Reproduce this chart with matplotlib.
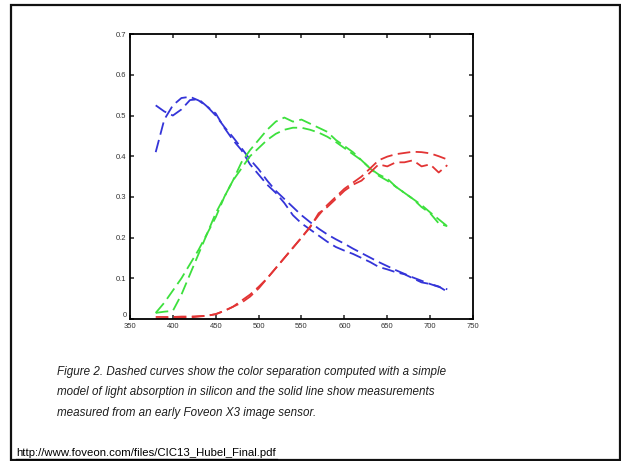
import numpy as np
import matplotlib
matplotlib.use('Agg')
import matplotlib.pyplot as plt
from matplotlib.patches import Rectangle
from matplotlib.lines import Line2D

plt.rcParams['font.family'] = ['Liberation Sans', 'DejaVu Sans']

# wavelength (nm) and response values
wl = [380, 390, 400, 410, 420, 430, 440, 450, 460, 470, 480, 490, 500, 510, 520,
      530, 540, 550, 560, 570, 580, 590, 600, 610, 620, 630, 640, 650, 660, 670,
      680, 690, 700, 710, 720]

blue_model = [0.41, 0.49, 0.525, 0.543, 0.546, 0.537, 0.522, 0.50, 0.472, 0.447, 0.42,
              0.392, 0.368, 0.34, 0.315, 0.295, 0.275, 0.255, 0.238, 0.222, 0.208, 0.196,
              0.185, 0.173, 0.162, 0.151, 0.14, 0.13, 0.12, 0.111, 0.102, 0.094,
              0.086, 0.079, 0.073]
blue_meas = [0.525, 0.51, 0.50, 0.515, 0.538, 0.54, 0.522, 0.505, 0.47, 0.44, 0.415,
             0.38, 0.355, 0.33, 0.31, 0.285, 0.255, 0.235, 0.22, 0.205, 0.19, 0.177,
             0.168, 0.16, 0.15, 0.14, 0.128, 0.122, 0.115, 0.11, 0.1, 0.09, 0.086,
             0.08, 0.067]

green_meas = [0.015, 0.04, 0.07, 0.10, 0.135, 0.17, 0.21, 0.25, 0.30, 0.34, 0.385,
              0.415, 0.44, 0.465, 0.485, 0.495, 0.485, 0.49, 0.48, 0.47, 0.46, 0.44,
              0.425, 0.41, 0.39, 0.37, 0.355, 0.345, 0.325, 0.31, 0.295, 0.275, 0.26,
              0.235, 0.228]
green_model = [0.015, 0.018, 0.02, 0.06, 0.11, 0.16, 0.21, 0.26, 0.30, 0.34, 0.37,
               0.40, 0.42, 0.44, 0.455, 0.465, 0.47, 0.47, 0.465, 0.458, 0.448, 0.435,
               0.42, 0.405, 0.39, 0.37, 0.352, 0.34, 0.325, 0.31, 0.295, 0.28, 0.262,
               0.245, 0.228]

red_model = [0.0, 0.001, 0.002, 0.003, 0.004, 0.006, 0.008, 0.012, 0.02, 0.03, 0.045,
             0.06, 0.079, 0.1, 0.125, 0.15, 0.175, 0.2, 0.227, 0.255, 0.28, 0.30, 0.32,
             0.335, 0.35, 0.37, 0.39, 0.399, 0.405, 0.408, 0.411, 0.41, 0.407, 0.40,
             0.392]
red_meas = [0.005, 0.005, 0.005, 0.006, 0.006, 0.007, 0.008, 0.012, 0.02, 0.03, 0.04,
            0.055, 0.075, 0.1, 0.125, 0.15, 0.175, 0.2, 0.225, 0.26, 0.275, 0.295, 0.315,
            0.33, 0.34, 0.36, 0.38, 0.375, 0.385, 0.385, 0.39, 0.375, 0.38, 0.36, 0.378]

xticks = [350, 400, 450, 500, 550, 600, 650, 700, 750]
yticks = [0, 0.1, 0.2, 0.3, 0.4, 0.5, 0.6, 0.7]
ytick_labels = ['0', '0.1', '0.2', '0.3', '0.4', '0.5', '0.6', '0.7']

caption = ("Figure 2. Dashed curves show the color separation computed with a simple\n"
           "model of light absorption in silicon and the solid line show measurements\n"
           "measured from an early Foveon X3 image sensor.")
url = "http://www.foveon.com/files/CIC13_Hubel_Final.pdf"

fig = plt.figure(figsize=(6.21, 4.61), dpi=100)
ax = fig.add_axes([0.2093, 0.308, 0.5524, 0.618])

dash = (0, (7, 3))
lw = 1.3
blue, green, red = '#3434d8', '#3de03d', '#e23434'
ax.plot(wl, blue_model, color=blue, lw=lw, linestyle=dash)
ax.plot(wl, blue_meas, color=blue, lw=lw, linestyle=dash)
ax.plot(wl, green_meas, color=green, lw=lw, linestyle=dash)
ax.plot(wl, green_model, color=green, lw=lw, linestyle=dash)
ax.plot(wl, red_model, color=red, lw=lw, linestyle=dash)
ax.plot(wl, red_meas, color=red, lw=lw, linestyle=dash)

ax.set_xlim(350, 750)
ax.set_ylim(0, 0.7)
ax.set_xticks(xticks)
ax.set_yticks(yticks)
ax.set_yticklabels(ytick_labels)
ax.tick_params(direction='in', top=True, right=True, length=3, width=1.2,
               labelsize=5.5, colors='#333333')
ax.tick_params(axis='x', pad=3)
ax.tick_params(axis='y', pad=2.5)
# the "0" label sits a little high in the original
ax.get_yticklabels()[0].set_va('bottom')
for s in ax.spines.values():
    s.set_linewidth(1.3)

fig.text(57 / 621, 1 - 366 / 461, caption, fontsize=8.4, style='italic',
         color='#1e1e1e', va='top', ha='left', linespacing=1.93)

fig.text(16 / 621, 1 - 453 / 461, url, fontsize=8.2, color='black',
         va='center', ha='left')
fig.add_artist(Line2D([16 / 621, 277 / 621], [1 - 459 / 461, 1 - 459 / 461],
                      transform=fig.transFigure, color='black', lw=0.9))

fig.add_artist(Rectangle((11 / 621, 1.5 / 461), 609 / 621, 454 / 461,
                         transform=fig.transFigure, fill=False,
                         edgecolor='#111111', lw=1.6))

fig.savefig('out.png', dpi=100)
